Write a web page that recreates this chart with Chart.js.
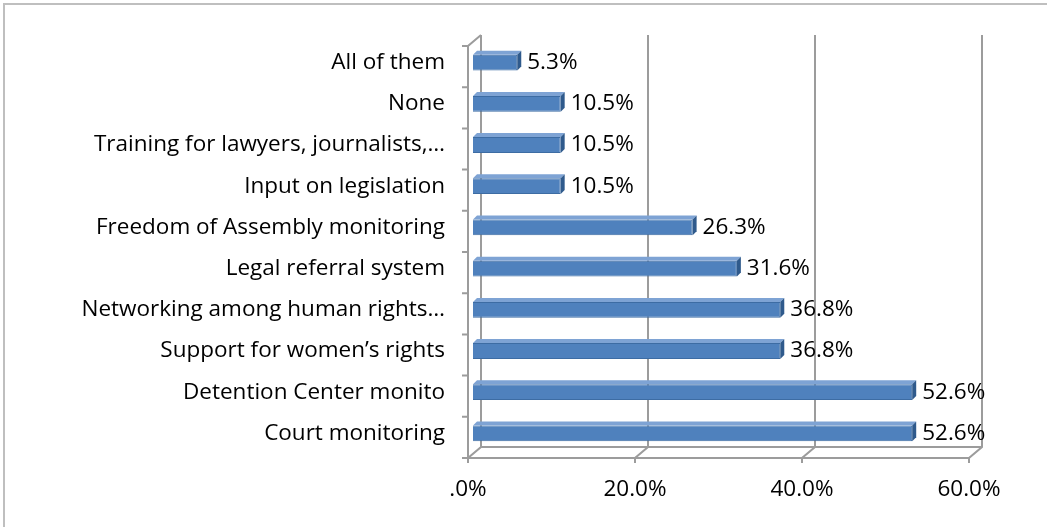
<!DOCTYPE html>
<html>
<head>
<meta charset="utf-8">
<script src="https://cdn.jsdelivr.net/npm/chart.js@4/dist/chart.umd.min.js"></script>
<style>
    body { margin: 0; background: #fff; }
    canvas { display: block; }
</style>
</head>
<body>
<canvas id="chart" width="1047" height="527"></canvas>
<script>
const categories = [
    "All of them",
    "None",
    "Training for lawyers, journalists,…",
    "Input on legislation",
    "Freedom of Assembly monitoring",
    "Legal referral system",
    "Networking among human rights…",
    "Support for women’s rights",
    "Detention Center monito",
    "Court monitoring"
];
const shares = [5.3, 10.5, 10.5, 10.5, 26.3, 31.6, 36.8, 36.8, 52.6, 52.6];
const xTicks = [0, 20, 40, 60];
const xTickLabels = [".0%", "20.0%", "40.0%", "60.0%"];

const FONT = "'Open Sans', Lato, sans-serif";
const FONT_SIZE = 22.5;
const GRID = "#9c9c9c";
// bars sit in the middle plane; front and back planes are offset from it
const FRONT = { dx: -5, dy: 4 };
const BACK = { dx: 8, dy: -7 };
const DEPTH = 4;

const box3d = {
    id: "box3d",
    beforeDatasetsDraw(chart) {
        const { ctx, chartArea: a, scales: { x } } = chart;
        ctx.save();
        ctx.strokeStyle = "#bfbfbf";
        ctx.lineWidth = 2;
        ctx.strokeRect(4, 4, chart.width + 10, chart.height + 10);

        ctx.strokeStyle = GRID;
        ctx.lineWidth = 2;
        const fl = a.left + FRONT.dx, fb = a.bottom + FRONT.dy, ft = a.top + FRONT.dy;
        const bl = a.left + BACK.dx, bb = a.bottom + BACK.dy, bt = a.top + BACK.dy;
        const fr = x.getPixelForValue(60) + FRONT.dx;
        const br = x.getPixelForValue(60) + BACK.dx;
        ctx.beginPath();
        // back wall gridlines and floor diagonals
        xTicks.forEach((v) => {
            const px = x.getPixelForValue(v);
            ctx.moveTo(px + BACK.dx, bt);
            ctx.lineTo(px + BACK.dx, bb);
            ctx.lineTo(px + FRONT.dx, fb);
            ctx.lineTo(px + FRONT.dx, fb + 5);
        });
        // left wall
        ctx.moveTo(bl, bt);
        ctx.lineTo(fl, ft);
        ctx.lineTo(fl, fb);
        // floor
        ctx.moveTo(fl, fb);
        ctx.lineTo(fr, fb);
        ctx.moveTo(bl, bb);
        ctx.lineTo(br, bb);
        // category tick marks
        const step = (a.bottom - a.top) / categories.length;
        for (let i = 0; i <= categories.length; i++) {
            const py = a.top + i * step + FRONT.dy;
            ctx.moveTo(fl - 6, py);
            ctx.lineTo(fl, py);
        }
        ctx.stroke();
        ctx.restore();
    },
    afterDatasetsDraw(chart) {
        const { ctx } = chart;
        const meta = chart.getDatasetMeta(0);
        ctx.save();
        meta.data.forEach((bar, i) => {
            const x0 = bar.base, x1 = bar.x;
            const top = bar.y - bar.height / 2, bot = bar.y + bar.height / 2;
            // top face
            ctx.beginPath();
            ctx.moveTo(x0, top);
            ctx.lineTo(x0 + DEPTH, top - DEPTH);
            ctx.lineTo(x1 + DEPTH, top - DEPTH);
            ctx.lineTo(x1, top);
            ctx.closePath();
            ctx.fillStyle = "#7ea3d4";
            ctx.fill();
            // side face
            ctx.beginPath();
            ctx.moveTo(x1, top);
            ctx.lineTo(x1 + DEPTH, top - DEPTH);
            ctx.lineTo(x1 + DEPTH, bot - DEPTH);
            ctx.lineTo(x1, bot);
            ctx.closePath();
            ctx.fillStyle = "#2f5a8c";
            ctx.fill();

            ctx.fillStyle = "#000";
            ctx.font = FONT_SIZE + "px " + FONT;
            ctx.textAlign = "left";
            ctx.textBaseline = "middle";
            ctx.fillText(shares[i].toFixed(1) + "%", x1 + DEPTH + 6, bar.y);
        });
        ctx.restore();
    }
};

new Chart(document.getElementById("chart"), {
    type: "bar",
    data: {
        labels: categories,
        datasets: [
            {
                data: shares,
                backgroundColor: "#4f81bd",
                borderColor: "#3d6ca3",
                borderWidth: 1,
                categoryPercentage: 0.8,
                barPercentage: 0.48
            }
        ]
    },
    options: {
        indexAxis: "y",
        responsive: false,
        animation: false,
        layout: {
            padding: { left: 0, top: 42, right: 73, bottom: 0 }
        },
        plugins: {
            legend: { display: false },
            tooltip: { enabled: false }
        },
        scales: {
            x: {
                min: 0,
                max: 60,
                afterFit: (scale) => { scale.height = 527 - 454; },
                afterBuildTicks: (scale) => {
                    scale.ticks = xTicks.map((v) => ({ value: v }));
                },
                grid: { display: false, drawTicks: false },
                border: { display: false },
                ticks: {
                    padding: 22,
                    labelOffset: -5,
                    color: "#000",
                    font: { family: FONT, size: FONT_SIZE },
                    callback: (value) => xTickLabels[xTicks.indexOf(value)]
                }
            },
            y: {
                afterFit: (scale) => { scale.width = 473; },
                grid: { display: false, drawTicks: false },
                border: { display: false },
                ticks: {
                    padding: 28,
                    autoSkip: false,
                    color: "#000",
                    font: { family: FONT, size: FONT_SIZE }
                }
            }
        }
    },
    plugins: [box3d]
});
</script>
</body>
</html>
